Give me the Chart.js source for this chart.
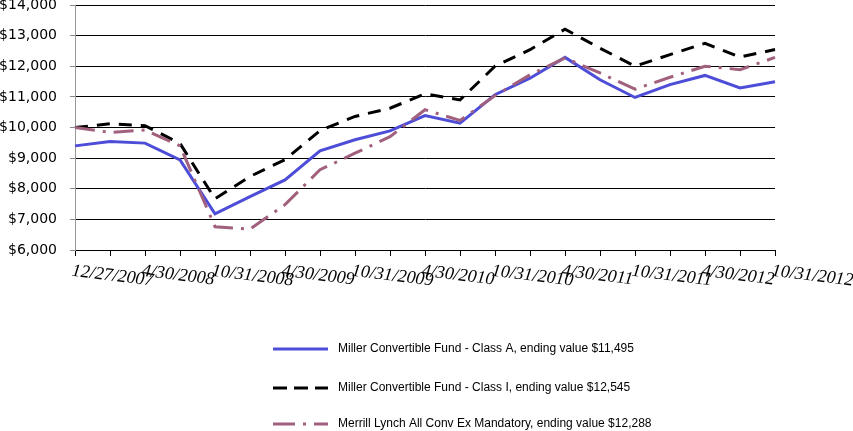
<!DOCTYPE html>
<html>
<head>
<meta charset="utf-8">
<script src="https://cdn.jsdelivr.net/npm/chart.js@4/dist/chart.umd.min.js"></script>
<style>
  html, body { margin: 0; padding: 0; background: #fff; }
  #wrap { width: 853px; height: 431px; }
</style>
</head>
<body>
<div id="wrap"><canvas id="growth" width="853" height="431"></canvas></div>
<script>
// dates on the x axis (only every other one gets a label)
const dates = [
  '12/27/2007', '1/31/2008', '4/30/2008', '7/31/2008', '10/31/2008',
  '1/31/2009', '4/30/2009', '7/31/2009', '10/31/2009', '1/31/2010',
  '4/30/2010', '7/31/2010', '10/31/2010', '1/31/2011', '4/30/2011',
  '7/31/2011', '10/31/2011', '1/31/2012', '4/30/2012', '7/31/2012',
  '10/31/2012'
];

// growth of $10,000
const classA = [9400, 9540, 9490, 8940, 7180, 7740, 8290, 9240, 9600, 9890,
  10390, 10140, 11070, 11610, 12290, 11560, 10980, 11400, 11700, 11290, 11495];
const classI = [10000, 10120, 10060, 9480, 7670, 8400, 8950, 9900, 10360, 10630,
  11100, 10900, 12000, 12540, 13210, 12590, 12000, 12380, 12750, 12300, 12545];
const merrill = [10000, 9840, 9920, 9400, 6760, 6680, 7480, 8620, 9160, 9700,
  10580, 10230, 11040, 11720, 12270, 11780, 11250, 11640, 12000, 11890, 12288];

const seriesNames = [
  'Miller Convertible Fund - Class A, ending value $11,495',
  'Miller Convertible Fund - Class I, ending value $12,545',
  'Merrill Lynch All Conv Ex Mandatory, ending value $12,288'
];

const yMin = 6000;
const yMax = 14000;
const yStep = 1000;

Chart.defaults.font.family = '"DejaVu Sans", sans-serif';
Chart.defaults.color = '#000';

// slanted date labels, drawn at the category scale's own tick positions
const slantedDates = {
  id: 'slantedDates',
  afterDraw(chart) {
    const ctx = chart.ctx;
    const x = chart.scales.x;
    ctx.save();
    ctx.font = 'italic 18px "Liberation Serif", "Times New Roman", serif';
    ctx.fillStyle = '#000';
    ctx.textAlign = 'left';
    ctx.textBaseline = 'top';
    dates.forEach((d, i) => {
      if (i % 2) return;
      ctx.save();
      ctx.translate(x.getPixelForTick(i) - 2, x.top + 12);
      ctx.rotate(7 * Math.PI / 180);
      ctx.fillText(d, 0, 0);
      ctx.restore();
    });
    ctx.restore();
  }
};

// stacked legend under the plot
const stackedLegend = {
  id: 'stackedLegend',
  afterDraw(chart) {
    const ctx = chart.ctx;
    const rows = [349, 388, 424];
    ctx.save();
    ctx.font = '12px "Liberation Sans", Arial, sans-serif';
    ctx.textBaseline = 'middle';
    ctx.textAlign = 'left';
    chart.data.datasets.forEach((ds, i) => {
      const y = rows[i];
      ctx.save();
      ctx.strokeStyle = ds.borderColor;
      ctx.lineWidth = ds.borderWidth;
      ctx.setLineDash(ds.legendDash || []);
      ctx.beginPath();
      ctx.moveTo(273, y);
      ctx.lineTo(328, y);
      ctx.stroke();
      ctx.restore();
      ctx.fillStyle = '#000';
      ctx.fillText(ds.label, 338, y);
    });
    ctx.restore();
  }
};

new Chart(document.getElementById('growth'), {
  type: 'line',
  data: {
    labels: dates,
    datasets: [
      {
        label: seriesNames[0],
        data: classA,
        borderColor: '#4D4DD8',
        borderWidth: 3,
        order: 2,
      },
      {
        label: seriesNames[1],
        data: classI,
        borderColor: '#000000',
        borderWidth: 3,
        borderDash: [13, 9],
        legendDash: [14, 7],
        order: 1,
      },
      {
        label: seriesNames[2],
        data: merrill,
        borderColor: '#A0607E',
        borderWidth: 3,
        borderDash: [20, 8, 3, 8],
        legendDash: [22, 8, 3, 8],
        order: 0,
      },
    ],
  },
  options: {
    responsive: false,
    animation: false,
    devicePixelRatio: 1,
    layout: { padding: { top: 5, right: 78, left: 0, bottom: 0 } },
    elements: {
      point: { radius: 0, hoverRadius: 0 },
      line: { tension: 0, fill: false },
    },
    plugins: {
      legend: { display: false },
      tooltip: { enabled: false },
    },
    scales: {
      x: {
        type: 'category',
        offset: false,
        ticks: { display: false, autoSkip: false },
        grid: {
          drawOnChartArea: false,
          drawTicks: true,
          tickLength: 6,
          color: '#000',
        },
        border: { display: true, color: '#000', width: 1 },
        afterFit(scale) {
          scale.height = 181;
          scale.paddingLeft = 0;
          scale.paddingRight = 0;
        },
      },
      y: {
        min: yMin,
        max: yMax,
        ticks: {
          stepSize: yStep,
          padding: 13,
          font: { size: 14 },
          color: '#000',
          callback: v => '$' + v.toLocaleString('en-US'),
        },
        grid: {
          color: '#000',
          lineWidth: 1,
          tickLength: 5,
          tickColor: '#888',
        },
        border: { display: true, color: '#999', width: 1 },
        afterFit(scale) {
          scale.width = 75;
          scale.paddingTop = 0;
          scale.paddingBottom = 0;
        },
      },
    },
  },
  plugins: [slantedDates, stackedLegend],
});
</script>
</body>
</html>
